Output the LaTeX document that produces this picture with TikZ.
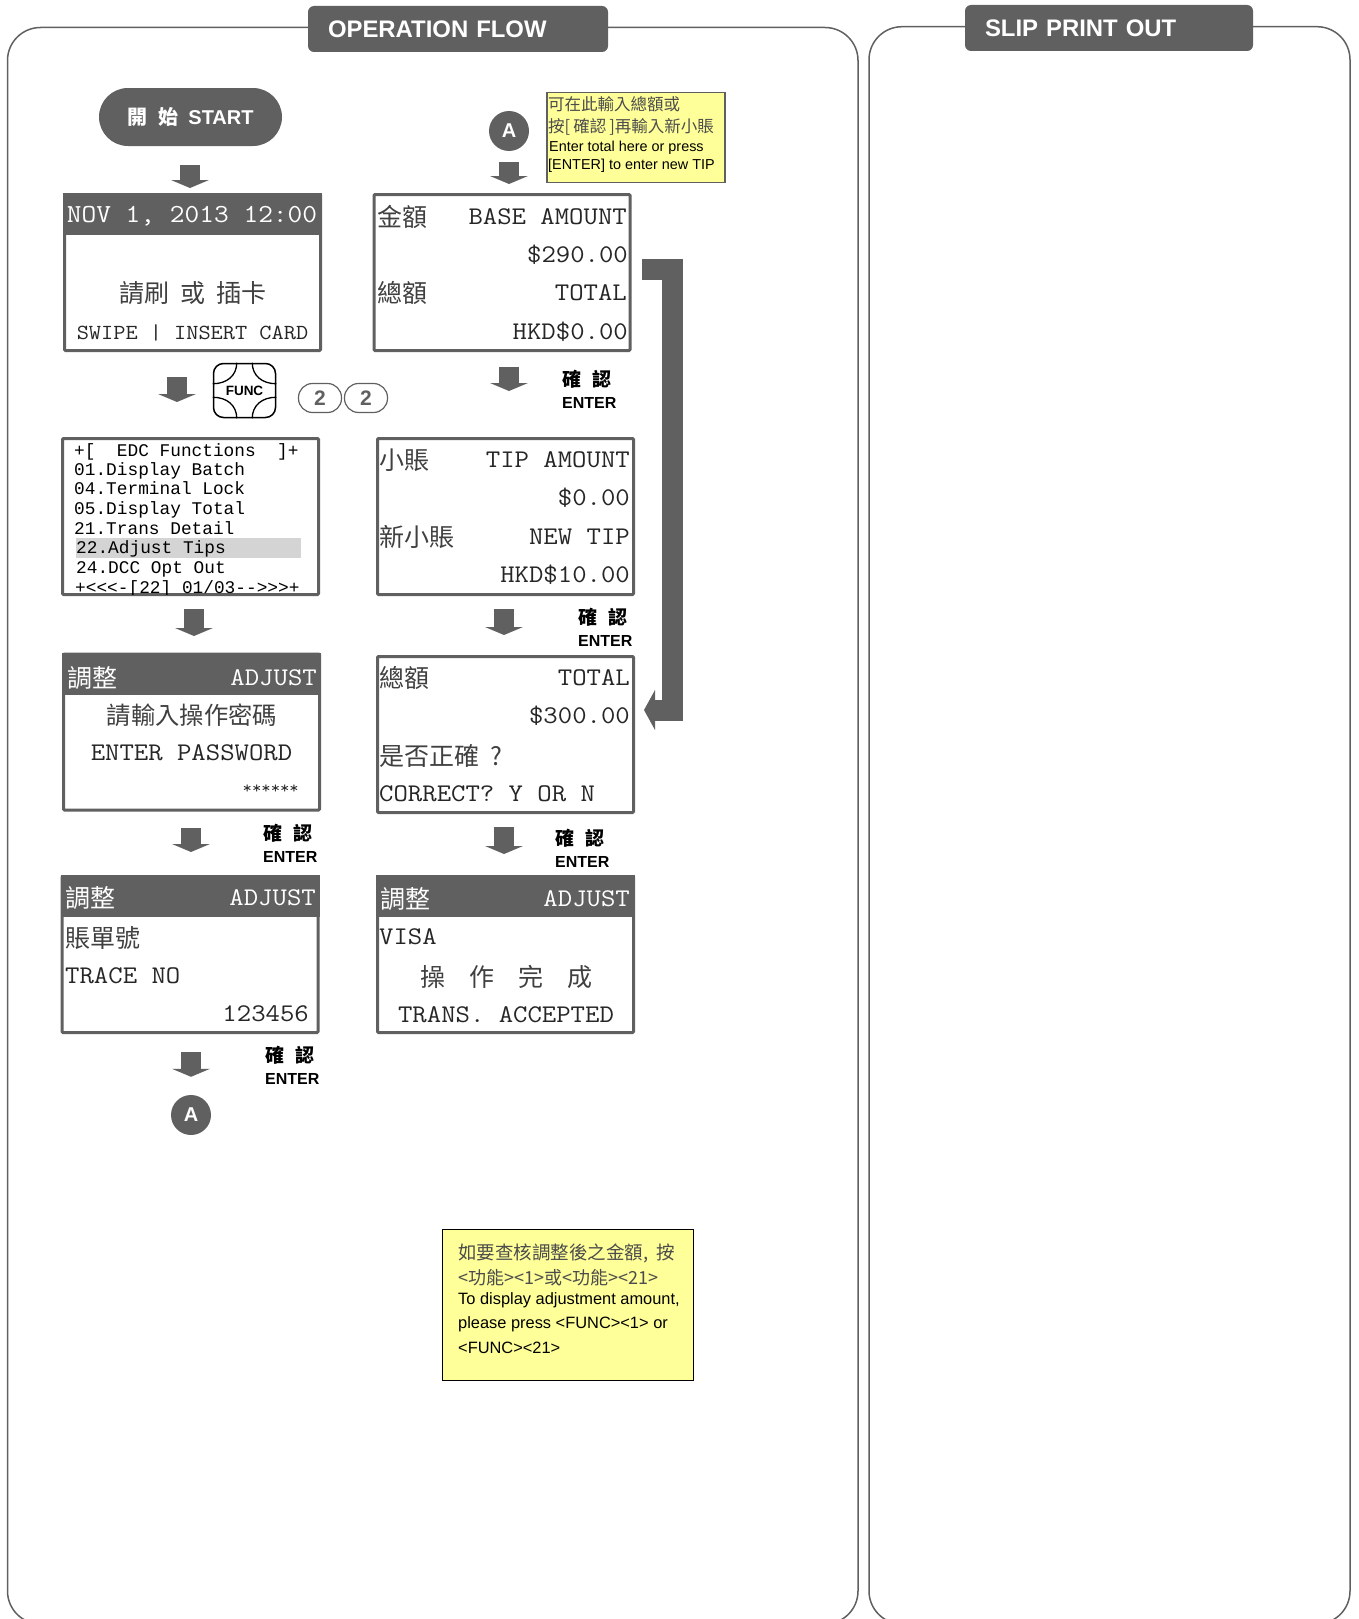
\documentclass[tikz,border=0pt]{standalone}
\usepackage{xcolor}
\usepackage{fontspec}
\setmainfont{Liberation Sans}
\newfontfamily\cjk{Noto Sans CJK TC}
\newfontfamily\menufont{Liberation Mono}
\newfontfamily\scrfont[FakeStretch=1.1]{Latin Modern Mono}
\usetikzlibrary{positioning, arrows.meta, calc}
\definecolor{panelgray}{HTML}{606060}
\definecolor{notefill}{HTML}{FFFF99}
\newcommand{\fs}[1]{\fontsize{#1}{#1}\selectfont}

\begin{document}
\begin{tikzpicture}[
  x=1pt, y=-1pt,
  panel/.style={draw=panelgray, line width=1.5pt, rounded corners=33pt},
  title/.style={fill=panelgray, text=white, rounded corners=6pt, font=\bfseries\fs{23.9}, minimum height=46pt, inner xsep=20pt, inner ysep=0pt, align=left},
  scr/.style={draw=panelgray, line width=3pt, fill=white, rounded corners=1pt, minimum width=256pt, minimum height=156pt},
  hdr/.style={fill=panelgray, anchor=north, minimum width=259pt, minimum height=42pt, inner sep=0pt},
  sc/.style={font=\scrfont\fs{25.4}, text=black!85, inner sep=0pt, text height=15pt, text depth=0pt},
  cn/.style={font=\cjk\fs{25}, text=black!75, inner sep=0pt, text height=21.5pt, text depth=3pt},
  lt/.style={anchor=west},
  rt/.style={anchor=east},
  menuln/.style={font=\menufont\fs{17.8}, anchor=west, inner sep=0pt, text height=11pt, text depth=0pt},
  bigarr/.style={draw=panelgray, line width=20pt, -{Triangle[length=8pt, width=38pt, line width=0pt]}},
  goto/.style={circle, fill=panelgray, text=white, font=\bfseries\fs{20}, minimum size=40pt, inner sep=0pt},
  cfmcn/.style={font=\cjk\bfseries\fs{19}, anchor=west, inner sep=0pt},
  cfmen/.style={font=\bfseries\fs{16}, anchor=west, inner sep=0pt},
  note/.style={draw, line width=1.5pt, fill=notefill},
  notecn/.style={font=\cjk\fs{#1}, text=black!70, anchor=west, inner sep=0pt},
  noteen/.style={font=\fs{#1}, anchor=west, inner sep=0pt},
  numkey/.style={draw=panelgray, line width=1.2pt, rounded corners=14pt, minimum width=43pt, minimum height=29pt, inner sep=0pt, font=\bfseries\fs{21}, text=panelgray},
]
\useasboundingbox (0,0) rectangle (1358,1619);
\clip (0,0) rectangle (1358,1619);

% --- Panels ---
\node[panel, minimum width=850.5pt, minimum height=1596.5pt] (oppanel) at (432.75,825.75) {};
\node[panel, minimum width=481pt, minimum height=1597.3pt] (slippanel) at (1109.5,825.35) {};
\node[title, text width=260pt] (optitle) at (458,29) {OPERATION FLOW};
\node[title, text width=248pt] (sliptitle) at (1109,28) {SLIP PRINT OUT};

% --- Left column ---
\node[fill=panelgray, text=white, rounded corners=29pt, minimum width=183pt, minimum height=58pt, inner sep=0pt, font=\bfseries\fs{20}] (start) at (190.5,117) {\cjk 開\hspace{11pt}始\hspace{10pt}\normalfont\bfseries START};

\node[scr] (scr1) at (192.5,272.5) {};
\node[hdr] (hdr1) at (scr1.north) {};
\node[sc, font=\scrfont\fs{26}, text=white, anchor=center] (date) at (192,215) {NOV 1, 2013 12:00};
\node[cn, anchor=center] (swipecn) at (193,293) {請刷\ \ 或\ \ 插卡};
\node[sc, font=\scrfont\fs{21.5}, anchor=center] (swipeen) at (192.5,332) {SWIPE | INSERT CARD};

\node[draw, line width=1.5pt, rounded corners=10pt, minimum width=62pt, minimum height=54pt, inner sep=0pt, font=\bfseries\fs{13.5}] (fkey) at (244.5,390.5) {FUNC};
\foreach \cc/\dx/\dy in {north west/24/21, north east/-24/21, south west/24/-21, south east/-24/-21} {
  \draw[line width=1.3pt] ([shift={(\dx,0)}]fkey.\cc) .. controls ([shift={(\dx,\dy*0.6)}]fkey.\cc) and ([shift={(\dx*0.6,\dy)}]fkey.\cc) .. ([shift={(0,\dy)}]fkey.\cc);
}
\node[numkey] (keya) at (320,398) {2};
\node[numkey] (keyb) at (366,398) {2};

\node[scr] (menu) at (190.5,516.5) {};
\node[fill=black!17, minimum width=225pt, minimum height=20pt, inner sep=0pt] (menusel) at (188.5,548) {};
\foreach \nm/\txt/\xx/\yy in {ma/{+[\ \ EDC Functions\ \ ]+}/74/451, mb/01.Display Batch/74/470, mc/04.Terminal Lock/74/489, md/05.Display Total/74/509, me/21.Trans Detail/74/529, mf/22.Adjust Tips/76/548, mg/24.DCC Opt Out/76/568} {
  \node[menuln] (\nm) at (\xx,\yy) {\txt};
}
\begin{scope}
  \clip (menu.north west) rectangle ([shift={(0,-2)}]menu.south east);
  \node[menuln] (mh) at (75,588) {+<<<-[22] 01/03-->>>+};
\end{scope}

\node[scr] (adj) at (191.5,732) {};
\node[hdr] (hdr2) at (adj.north) {};
\node[cn, lt, text=white] (adjcn) at (67,678) {調整};
\node[sc, rt, text=white] (adjen) at (317,678) {ADJUST};
\node[cn, anchor=center, font=\cjk\fs{24.3}] (pwdcn) at (192,715) {請輸入操作密碼};
\node[sc, anchor=center] (pwden) at (191.5,753) {ENTER PASSWORD};
\node[sc, rt, font=\scrfont\bfseries\fs{16.5}, text height=10pt] (pwdst) at (299,788) {******};

\node[scr] (trace) at (190,954.5) {};
\node[hdr] (hdr3) at (trace.north) {};
\node[cn, lt, text=white] (trcn) at (65,898) {調整};
\node[sc, rt, text=white] (tren) at (316,898) {ADJUST};
\node[cn, lt] (tracecn) at (65,938) {賬單號};
\node[sc, lt] (traceen) at (65,976) {TRACE NO};
\node[sc, rt] (traceno) at (309,1014) {123456};

\node[goto] (goa) at (191,1115) {A};

% --- Right column ---
\node[goto] (ina) at (509,131) {A};
\node[note, draw=panelgray, minimum width=178pt, minimum height=90pt] (noteb) at (636,137.5) {};
\node[notecn=16.5] (nb1) at (548,104) {可在此輸入總額或};
\node[notecn=16.5] (nb2) at (548,127) {按[\hspace{3pt}確認\hspace{3pt}]再輸入新小賬};
\node[noteen=14.4] (nb3) at (549,148) {Enter total here or press};
\node[noteen=14.4] (nb4) at (548,165.5) {[ENTER] to enter new TIP};

\node[scr] (base) at (502,272.5) {};
\node[cn, lt] (basecn) at (377,217) {金額};
\node[sc, rt] (baseen) at (627,217) {BASE AMOUNT};
\node[sc, rt] (baseval) at (628,255) {\$290.00};
\node[cn, lt] (totcn) at (377,293) {總額};
\node[sc, rt] (toten) at (627,293) {TOTAL};
\node[sc, rt] (totval) at (628,332) {HKD\$0.00};

\node[scr] (tip) at (505.5,516.5) {};
\node[cn, lt] (tipcn) at (379,460) {小賬};
\node[sc, rt] (tipen) at (630,460) {TIP AMOUNT};
\node[sc, rt] (tipval) at (630,498) {\$0.00};
\node[cn, lt] (newcn) at (379,537) {新小賬};
\node[sc, rt] (newen) at (630,537) {NEW TIP};
\node[sc, rt] (newval) at (630,575) {HKD\$10.00};

\node[scr] (total) at (505.5,734.5) {};
\node[cn, lt] (sumcn) at (379,678) {總額};
\node[sc, rt] (sumen) at (630,678) {TOTAL};
\node[sc, rt] (sumval) at (630,716) {\$300.00};
\node[cn, lt] (askcn) at (379,756) {是否正確\ \ ?};
\node[sc, lt] (asken) at (379,794) {CORRECT? Y OR N};

\node[scr] (visa) at (505.5,954.5) {};
\node[hdr] (hdr4) at (visa.north) {};
\node[cn, lt, text=white] (vhcn) at (380,899) {調整};
\node[sc, rt, text=white] (vhen) at (630,899) {ADJUST};
\node[sc, lt] (visaen) at (379,937) {VISA};
\node[cn, anchor=center] (okcn) at (506,977) {操\hspace{24pt}作\hspace{24pt}完\hspace{24pt}成};
\node[sc, anchor=center] (oken) at (506,1015) {TRANS. ACCEPTED};

% --- ENTER labels ---
\foreach \nm/\xx/\yy in {ca/263/833, cb/265/1055, cc/562/379, cd/578/617, ce/555/838} {
  \node[cfmcn] (\nm cn) at (\xx,\yy) {確\hspace{11pt}認};
  \node[cfmen] (\nm en) at (\xx,\yy+24) {ENTER};
}

% --- Block arrows ---
\draw[bigarr] ([shift={(-0.5,19)}]start.south) -- ([shift={(-2.5,-5)}]scr1.north);
\draw[bigarr] ([shift={(-15.5,25)}]scr1.south) -- ([shift={(-13.5,-35)}]menu.north);
\draw[bigarr] ([shift={(3.5,13)}]menu.south) -- ([shift={(2.5,-16.5)}]adj.north);
\draw[bigarr] ([shift={(-0.5,16.5)}]adj.south) -- ([shift={(1,-23)}]trace.north);
\draw[bigarr] ([shift={(1,18)}]trace.south) -- ([shift={(0,-18)}]goa.north);
\draw[bigarr] ([shift={(0,11)}]ina.south) -- ([shift={(7,-9)}]base.north);
\draw[bigarr] ([shift={(7,15)}]base.south) -- ([shift={(3.5,-46)}]tip.north);
\draw[bigarr] ([shift={(-1.5,13)}]tip.south) -- ([shift={(-1.5,-20)}]total.north);
\draw[bigarr] ([shift={(-1.5,13)}]total.south) -- ([shift={(-1.5,-21)}]visa.north);
\draw[draw=panelgray, line width=21pt, -{Triangle[length=11pt, width=40pt, line width=0pt]}] ([shift={(10.5,-3.5)}]base.east) -- ++(30,0) |- ([shift={(9,-24.5)}]total.east);

% --- Bottom note ---
\node[note, minimum width=251pt, minimum height=151pt] (notea) at (568,1305) {};
\node[notecn=18.5] (na1) at (458,1253) {如要查核調整後之金額,\ \ 按};
\node[notecn=18] (na2) at (458,1278) {<功能><1>或<功能><21>};
\node[noteen=16.4] (na3) at (458,1300) {To display adjustment amount,};
\node[noteen=16.4] (na4) at (458,1324) {please press <FUNC><1> or};
\node[noteen=16.4] (na5) at (458,1348) {<FUNC><21>};

\end{tikzpicture}
\end{document}
